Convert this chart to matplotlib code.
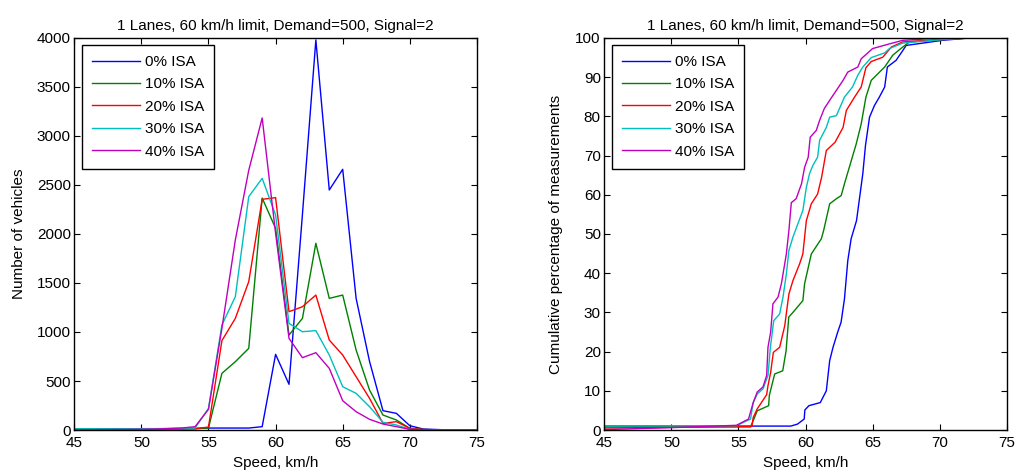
import numpy as np
import matplotlib.pyplot as plt

plt.rcParams['font.family'] = ['Liberation Sans', 'DejaVu Sans']
plt.rcParams['font.size'] = 11

title = '1 Lanes, 60 km/h limit, Demand=500, Signal=2'
labels = ['0% ISA', '10% ISA', '20% ISA', '30% ISA', '40% ISA']
colors = ['#0000ff', '#008000', '#ff0000', '#00bfbf', '#bf00bf']

# histogram (vehicles per 1 km/h bin)
speed = np.arange(45, 76)
hist_0 = [10, 10, 10, 10, 10, 12, 12, 14, 15, 15, 20, 20, 20, 20, 34, 772, 466, 2200, 3980, 2449, 2660,
          1343, 700, 197, 170, 44, 10, 5, 0, 0, 0]
hist_10 = [8, 8, 8, 8, 8, 10, 10, 12, 12, 14, 20, 578, 697, 833, 2367, 2058, 969, 1139, 1905, 1343, 1377,
           816, 408, 153, 102, 17, 5, 2, 0, 0, 0]
hist_20 = [5, 5, 5, 5, 6, 8, 8, 10, 12, 14, 30, 912, 1139, 1514, 2354, 2371, 1207, 1258, 1377, 918, 765,
           544, 323, 68, 85, 17, 5, 2, 0, 0, 0]
hist_30 = [12, 12, 12, 12, 12, 14, 14, 16, 18, 20, 221, 1071, 1360, 2381, 2568, 2194, 1088, 1003, 1014, 765, 442,
           374, 238, 78, 51, 7, 3, 1, 0, 0, 0]
hist_40 = [2, 3, 4, 5, 6, 8, 10, 14, 20, 34, 211, 1037, 1939, 2650, 3184, 2007, 935, 738, 789, 629, 299,
           187, 109, 61, 34, 7, 3, 1, 0, 0, 0]
hists = [hist_0, hist_10, hist_20, hist_30, hist_40]

# cumulative percentage curves (speed, percent)
cum_0_x = [45, 58.9, 59.4, 59.9, 59.95, 60.25, 61.1, 61.55, 61.8, 62.05, 62.4, 62.65, 62.9, 63.15, 63.4, 63.8,
           64.27, 64.47, 64.77, 65.14, 65.5, 65.9, 66.1, 66.75, 67.25, 67.5, 70.2, 72.2, 75]
cum_0_y = [1.0, 1.0, 1.5, 2.8, 5.1, 6.2, 7.0, 10.0, 17.7, 21.1, 25.0, 27.5, 33.4, 43.2, 48.8, 53.4,
           65.4, 72.6, 79.8, 82.8, 84.9, 87.5, 92.6, 94.3, 96.8, 98.1, 99.4, 100, 100]
cum_10_x = [45, 55.9, 56.1, 56.4, 57.25, 57.3, 57.7, 58.3, 58.55, 58.75, 59.06, 59.8, 59.93, 60.43, 61.18,
            61.35, 61.8, 62.3, 62.66, 62.9, 63.78, 64.15, 64.5, 64.9, 65.4, 65.9, 66.5, 67.1, 67.75, 70.2, 72.2, 75]
cum_10_y = [0.8, 0.8, 2.4, 4.9, 6.2, 8.8, 14.3, 15.1, 20.2, 28.8, 30.0, 33.0, 37.3, 44.9, 48.8,
            50.9, 57.7, 59.0, 59.8, 62.8, 73.0, 78.1, 84.9, 89.2, 90.9, 92.6, 95.6, 97.3, 99.0, 99.6, 100, 100]
cum_20_x = [45, 56.0, 56.1, 56.4, 57.1, 57.2, 57.4, 57.6, 58.07, 58.45, 58.76, 59.06, 59.56, 59.8, 60.06,
            60.43, 60.9, 61.2, 61.55, 62.2, 62.8, 63.04, 63.65, 64.15, 64.5, 64.9, 65.76, 66.4, 67.25, 70.2, 72.2, 75]
cum_20_y = [0.5, 0.9, 3.2, 5.4, 9.0, 11.3, 14.7, 19.8, 21.1, 26.6, 34.7, 38.1, 42.4, 44.9, 53.4,
            57.7, 60.2, 64.5, 71.3, 73.4, 77.2, 81.5, 84.9, 87.5, 92.4, 94.0, 95.1, 97.7, 99.0, 99.6, 100, 100]
cum_30_x = [45, 54.85, 55.9, 56.1, 56.4, 56.83, 57.2, 57.38, 57.63, 58.07, 58.32, 58.57, 58.76, 59.06, 59.43,
            59.8, 60.06, 60.3, 60.55, 60.9, 61.05, 61.55, 61.8, 62.3, 62.9, 63.5, 63.9, 64.27, 64.9, 65.9, 66.26,
            67.25, 70.2, 72.2, 75]
cum_30_y = [1.0, 1.1, 2.8, 7.0, 9.2, 10.5, 13.9, 21.1, 27.9, 29.6, 33.9, 39.8, 45.8, 49.2, 52.6,
            56.0, 61.9, 65.4, 67.5, 69.6, 73.9, 77.2, 79.8, 80.2, 84.9, 87.5, 90.5, 92.6, 95.0, 96.2, 97.3,
            98.7, 99.6, 100, 100]
cum_40_x = [45, 50, 54.85, 55.75, 56.1, 56.4, 56.83, 57.1, 57.2, 57.4, 57.57, 57.95, 58.2, 58.57, 58.76,
            58.94, 59.3, 59.7, 59.93, 60.2, 60.35, 60.8, 61.05, 61.4, 61.8, 62.8, 63.15, 63.9, 64.15, 65.0,
            66.26, 67.25, 70.2, 75]
cum_40_y = [0.1, 0.6, 1.2, 2.8, 7.0, 9.7, 11.0, 13.9, 21.1, 25.0, 32.2, 33.9, 37.3, 44.9, 50.9,
            58.0, 59.0, 62.8, 67.0, 69.6, 74.7, 76.4, 79.0, 82.0, 84.1, 89.2, 91.3, 92.6, 94.7, 97.3,
            98.5, 99.4, 100, 100]
cums = [(cum_0_x, cum_0_y), (cum_10_x, cum_10_y), (cum_20_x, cum_20_y),
        (cum_30_x, cum_30_y), (cum_40_x, cum_40_y)]

fig = plt.figure(figsize=(10.16, 4.73), dpi=100)
ax1 = fig.add_axes([0.0731, 0.0909, 0.3963, 0.8288])
ax2 = fig.add_axes([0.5948, 0.0909, 0.3961, 0.8288])

for h, c, lab in zip(hists, colors, labels):
    ax1.plot(speed, h, color=c, lw=1, label=lab)
for (cx, cy), c, lab in zip(cums, colors, labels):
    ax2.plot(cx, cy, color=c, lw=1, label=lab)

ax1.set_ylim(0, 4000)
ax1.set_yticks(np.arange(0, 4001, 500))
ax1.set_ylabel('Number of vehicles', labelpad=8)
ax2.set_ylim(0, 100)
ax2.set_yticks(np.arange(0, 101, 10))
ax2.set_ylabel('Cumulative percentage of measurements', labelpad=9)

for ax in (ax1, ax2):
    ax.set_xlim(45, 75)
    ax.set_xticks(np.arange(45, 76, 5))
    ax.set_xlabel('Speed, km/h', labelpad=4)
    ax.set_title(title, fontsize=11, pad=6)
    ax.tick_params(direction='in', top=True, right=True, length=4, width=0.8)
    ax.tick_params(axis='x', pad=4.5)
    ax.tick_params(axis='y', pad=2.5)
    for s in ax.spines.values():
        s.set_linewidth(1)
    leg = ax.legend(loc='upper left', bbox_to_anchor=(0.02, 0.982), borderaxespad=0,
                    fancybox=False, edgecolor='black', framealpha=1,
                    handlelength=3.15, handletextpad=0.3, labelspacing=0.55, borderpad=0.65)
    leg.get_frame().set_linewidth(1)

fig.savefig('out.png', dpi=100)
